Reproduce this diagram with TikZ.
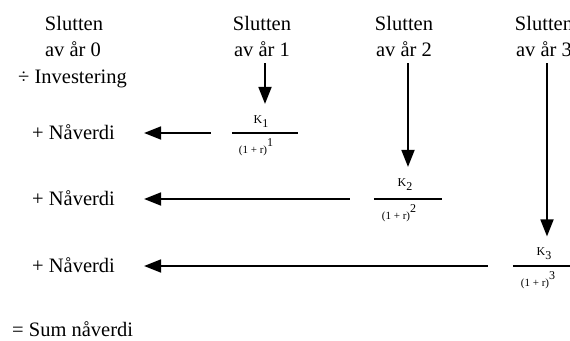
\documentclass[tikz,border=0pt]{standalone}
\usepackage{fontspec}
\setmainfont{Liberation Serif}
\usetikzlibrary{arrows.meta}
\begin{document}
\begin{tikzpicture}[x=1pt,y=-1pt,
  txt/.style={font=\fontsize{20.5}{24}\selectfont, inner sep=0pt, anchor=base},
  lbl/.style={txt, anchor=base west},
  fracpart/.style={font=\fontsize{12}{14}\selectfont, inner sep=0pt, anchor=base},
  arr/.style={line width=1.8pt, -{Triangle[length=17pt,width=13pt]}},
  fracbar/.style={inner sep=0pt, minimum height=0pt},
  barline/.style={line width=1.3pt}]
\useasboundingbox (0,0) rectangle (570,340);

% column headings
\node[txt] (h0a) at (74,30) {Slutten};
\node[txt] (h0b) at (73,56.5) {av år 0};
\node[txt] (h1a) at (262,30) {Slutten};
\node[txt] (h1b) at (262,56.5) {av år 1};
\node[txt] (h2a) at (404,30) {Slutten};
\node[txt] (h2b) at (404,56.5) {av år 2};
\node[txt] (h3a) at (544,30) {Slutten};
\node[txt] (h3b) at (544,56.5) {av år 3};

% left-hand column
\node[lbl] (inv) at (18,83) {÷ Investering};
\node[lbl] (nv1) at (32,139) {+ Nåverdi};
\node[lbl] (nv2) at (32,205) {+ Nåverdi};
\node[lbl] (nv3) at (32,272) {+ Nåverdi};
\node[lbl] (sum) at (12,336) {= Sum nåverdi};

% discounted cash flows: bar, numerator, denominator
\node[fracbar, minimum width=66pt] (b1) at (265,133) {};
\node[fracbar, minimum width=68pt] (b2) at (408,199) {};
\node[fracbar, minimum width=68pt] (b3) at (547,266) {};
\draw[barline] (b1.west) -- (b1.east);
\draw[barline] (b2.west) -- (b2.east);
\draw[barline] (b3.west) -- (b3.east);

\node[fracpart] (k1) at (261,123) {K\raisebox{-4pt}{1}};
\node[fracpart] (k2) at (405,186) {K\raisebox{-4pt}{2}};
\node[fracpart] (k3) at (544,255.5) {K\raisebox{-4pt}{3}};

\node[fracpart] (d1) at (256,153) {{\fontsize{11}{13}\selectfont (1 + r)}\raisebox{7pt}{1}};
\node[fracpart] (d2) at (399,219) {{\fontsize{11}{13}\selectfont (1 + r)}\raisebox{7pt}{2}};
\node[fracpart] (d3) at (538,286) {{\fontsize{11}{13}\selectfont (1 + r)}\raisebox{7pt}{3}};

% arrows down from each year
\draw[arr, shorten <=6.5pt, shorten >=11pt] (h1b.south -| b1) -- (b1 |- k1.north);
\draw[arr, shorten <=6.5pt, shorten >=11pt] (h2b.south -| b2) -- (b2 |- k2.north);
\draw[arr, shorten <=6.5pt, shorten >=11pt] (h3b.south -| b3) -- (b3 |- k3.north);

% arrows back to year 0
\draw[arr, shorten <=21pt, shorten >=29pt] (b1.west) -- (b1.west -| nv1.east);
\draw[arr, shorten <=24pt, shorten >=29pt] (b2.west) -- (b2.west -| nv2.east);
\draw[arr, shorten <=25pt, shorten >=29pt] (b3.west) -- (b3.west -| nv3.east);
\end{tikzpicture}
\end{document}
